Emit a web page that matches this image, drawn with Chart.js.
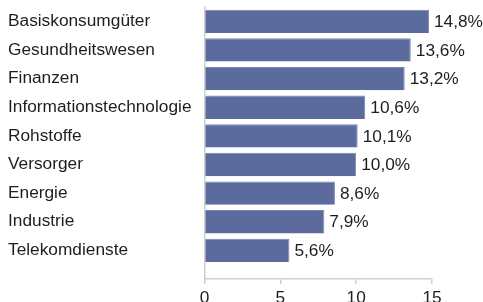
<!DOCTYPE html>
<html>
<head>
<meta charset="utf-8">
<script src="https://cdn.jsdelivr.net/npm/chart.js@4"></script>
<style>
  html, body { margin: 0; padding: 0; background: #fff; overflow: hidden; }
  #wrap { width: 483px; height: 320px; position: relative; }
</style>
</head>
<body>
<div id="wrap"><canvas id="sectorChart"></canvas></div>
<script>
const sectors = ['Basiskonsumgüter', 'Gesundheitswesen', 'Finanzen', 'Informationstechnologie',
  'Rohstoffe', 'Versorger', 'Energie', 'Industrie', 'Telekomdienste'];
const weights = [14.8, 13.6, 13.2, 10.6, 10.1, 10.0, 8.6, 7.9, 5.6];
const xTicks = [0, 5, 10, 15];

const labelFont = { family: "'Liberation Sans', Arial, sans-serif", size: 17.3 };
const fmt = (v) => v.toFixed(1).replace('.', ',') + '%';

// value labels right of each bar
const valueLabels = {
  id: 'valueLabels',
  afterDatasetsDraw(chart) {
    const ctx = chart.ctx;
    const meta = chart.getDatasetMeta(0);
    ctx.save();
    ctx.font = labelFont.size + 'px ' + labelFont.family;
    ctx.fillStyle = '#1e1e1e';
    ctx.textAlign = 'left';
    ctx.textBaseline = 'middle';
    meta.data.forEach((bar, i) => {
      ctx.fillText(fmt(weights[i]), bar.x + 5, bar.y + 1);
    });
    ctx.restore();
  }
};

const ctx = document.getElementById('sectorChart').getContext('2d');
const chart = new Chart(ctx, {
  type: 'bar',
  data: {
    labels: sectors,
    datasets: [{
      data: weights,
      backgroundColor: '#5c6b9e',
      borderColor: '#7a86b0',
      borderWidth: { top: 1, right: 1, bottom: 0, left: 0 },
      borderSkipped: false,
      categoryPercentage: 1,
      barPercentage: 0.815
    }]
  },
  options: {
    indexAxis: 'y',
    responsive: true,
    maintainAspectRatio: false,
    animation: false,
    layout: { padding: { left: 8, right: 51, top: 7, bottom: 0 } },
    plugins: { legend: { display: false }, tooltip: { enabled: false } },
    scales: {
      x: {
        min: 0,
        max: 15,
        afterBuildTicks: (s) => { s.ticks = xTicks.map(v => ({ value: v })); },
        afterFit: (s) => { s.height = 41; },
        border: { display: true, color: '#cfcfcf', width: 1.5 },
        grid: { drawOnChartArea: false, drawTicks: true, tickLength: 5, color: '#cfcfcf', lineWidth: 1.5 },
        ticks: { color: '#1e1e1e', font: labelFont, padding: 4, maxRotation: 0 }
      },
      y: {
        // leave half a band empty below the last bar, like the original
        afterBuildTicks: (s) => { s._startValue = -0.5; s._valueRange = 9.5; },
        afterFit: (s) => { s.width = 196.5; s.paddingTop = 0; s.paddingBottom = 0; },
        border: { display: true, color: '#cfcfcf', width: 1.5 },
        grid: { display: false },
        ticks: { color: '#1e1e1e', font: labelFont, crossAlign: 'far', padding: 8 }
      }
    }
  },
  plugins: [valueLabels]
});
</script>
</body>
</html>
